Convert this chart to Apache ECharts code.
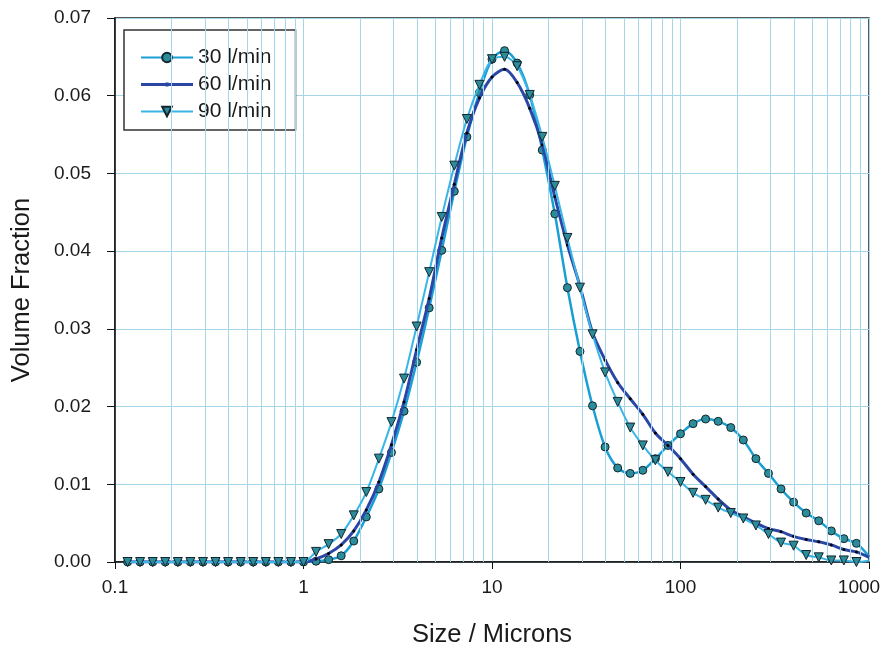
<!DOCTYPE html>
<html>
<head>
<meta charset="utf-8">
<script src="https://cdn.jsdelivr.net/npm/echarts@6/dist/echarts.min.js"></script>
<style>
  html, body { margin: 0; padding: 0; background: #fff; }
  #chart { width: 892px; height: 653px; }
</style>
</head>
<body>
<div id="chart"></div>
<script>
// Particle size bins (microns), 15 per decade
var sizes = [0.1166, 0.1359, 0.1585, 0.1848, 0.2154, 0.2512, 0.2929, 0.3415, 0.3981, 0.4642,
  0.5412, 0.631, 0.7356, 0.8577, 1, 1.166, 1.359, 1.585, 1.848, 2.154,
  2.512, 2.929, 3.415, 3.981, 4.642, 5.412, 6.31, 7.356, 8.577, 10,
  11.66, 13.59, 15.85, 18.48, 21.54, 25.12, 29.29, 34.15, 39.81, 46.42,
  54.12, 63.1, 73.56, 85.77, 100, 116.6, 135.9, 158.5, 184.8, 215.4,
  251.2, 292.9, 341.5, 398.1, 464.2, 541.2, 631, 735.6, 857.7, 1000];

var flow30 = [0, 0, 0, 0, 0, 0, 0, 0, 0, 0, 0, 0, 0, 0, 0,
  0.0001, 0.0003, 0.0008, 0.0027, 0.0058, 0.0094, 0.0141, 0.0194, 0.0257, 0.0327,
  0.0401, 0.0477, 0.0547, 0.0604, 0.0647, 0.0658, 0.0642, 0.0601, 0.0530, 0.0448,
  0.0353, 0.0271, 0.0201, 0.0148, 0.0121, 0.0114, 0.0118, 0.0133, 0.0150, 0.0165,
  0.0178, 0.0184, 0.0181, 0.0173, 0.0157, 0.0133, 0.0114, 0.0094, 0.0077, 0.0063,
  0.0053, 0.0040, 0.0030, 0.0024, 0.0007];

var flow60 = [0, 0, 0, 0, 0, 0, 0, 0, 0, 0, 0, 0, 0, 0, 0,
  0.0004, 0.0011, 0.0022, 0.0040, 0.0067, 0.0103, 0.0151, 0.0206, 0.0273, 0.0339,
  0.0417, 0.0486, 0.0552, 0.0597, 0.0624, 0.0634, 0.0617, 0.0584, 0.0537, 0.0470,
  0.0408, 0.0355, 0.0295, 0.0260, 0.0231, 0.0210, 0.0190, 0.0166, 0.0150, 0.0133,
  0.0113, 0.0097, 0.0081, 0.0067, 0.0058, 0.0050, 0.0043, 0.0039, 0.0033, 0.0029,
  0.0026, 0.0022, 0.0016, 0.0013, 0.0006];

var flow90 = [0, 0, 0, 0, 0, 0, 0, 0, 0, 0, 0, 0, 0, 0, 0,
  0.0013, 0.0023, 0.0036, 0.0060, 0.0090, 0.0133, 0.0180, 0.0236, 0.0303, 0.0373,
  0.0444, 0.0510, 0.0570, 0.0614, 0.0647, 0.0650, 0.0638, 0.0601, 0.0547, 0.0484,
  0.0417, 0.0353, 0.0293, 0.0244, 0.0206, 0.0173, 0.0150, 0.0131, 0.0116, 0.0103,
  0.0089, 0.0080, 0.0070, 0.0063, 0.0056, 0.0047, 0.0036, 0.0025, 0.0021, 0.0009,
  0.0006, 0.0002, 0.0002, 0.0000, 0.0002];

var seriesNames = ['30 l/min', '60 l/min', '90 l/min'];
var xTickLabels = ['0.1', '1', '10', '100', '1000'];
var yTickLabels = ['0.00', '0.01', '0.02', '0.03', '0.04', '0.05', '0.06', '0.07'];
// minor log gridlines
var minorGrid = [0.2, 0.3, 0.4, 0.5, 0.6, 0.7, 0.8, 0.9,
  2, 3, 4, 5, 6, 7, 8, 9,
  20, 30, 40, 50, 60, 70, 80, 90,
  200, 300, 400, 500, 600, 700, 800, 900];

function pairs(vals) {
  return sizes.map(function (s, i) {
    var item = { value: [s, vals[i]] };
    if (i === sizes.length - 1) item.symbol = 'none';
    return item;
  });
}

var gridColor = '#a6d5e8';
var font = 'Liberation Sans, Arial, sans-serif';

var chart = echarts.init(document.getElementById('chart'), null, { renderer: 'canvas' });
chart.setOption({
  backgroundColor: '#ffffff',
  animation: false,
  grid: { left: 115, right: 23, top: 18, bottom: 91, show: true, borderColor: '#222', borderWidth: 1.5, backgroundColor: 'transparent', containLabel: false, outerBoundsMode: 'none' },
  legend: {
    data: [
      { name: seriesNames[0] },
      { name: seriesNames[1], icon: 'path://M0,5.5 L52,5.5 L52,8.5 L0,8.5 Z M24.5,5 L27.5,5 L27.5,9 L24.5,9 Z', itemStyle: { color: '#2a47a6', borderWidth: 0 } },
      { name: seriesNames[2] }
    ],
    orient: 'vertical',
    left: 124, top: 30,
    padding: [17, 24, 8, 16],
    itemWidth: 52, itemHeight: 12, itemGap: 6,
    borderColor: '#333', borderWidth: 1.5, backgroundColor: '#fff',
    textStyle: { fontFamily: font, fontSize: 21, color: '#1a1a1a', lineHeight: 20 }
  },
  xAxis: {
    type: 'log', logBase: 10, min: 0.1, max: 1000,
    name: 'Size / Microns', nameLocation: 'middle', nameGap: 60,
    nameTextStyle: { fontFamily: font, fontSize: 25.5, color: '#1a1a1a' },
    axisLine: { lineStyle: { color: '#111', width: 1.5 } },
    axisTick: { show: true, inside: false, length: 7, lineStyle: { color: '#111' } },
    axisLabel: {
      fontFamily: font, fontSize: 19, color: '#1a1a1a', margin: 16,
      formatter: function (v) {
        var idx = Math.round(Math.log10(v)) + 1;
        var t = xTickLabels[idx] !== undefined ? xTickLabels[idx] : '';
        return idx === xTickLabels.length - 1 ? '{last|' + t + '}' : t;
      },
      rich: { last: { fontFamily: font, fontSize: 19, color: '#1a1a1a', padding: [0, 20, 0, 0] } }
    },
    splitLine: { show: true, lineStyle: { color: gridColor, width: 1 } }
  },
  yAxis: {
    type: 'value', min: 0, max: 0.07, interval: 0.01,
    name: 'Volume Fraction', nameLocation: 'middle', nameGap: 80,
    nameTextStyle: { fontFamily: font, fontSize: 25.5, color: '#1a1a1a' },
    axisLine: { show: true, lineStyle: { color: '#111', width: 1.5 } },
    axisTick: { show: true, inside: false, length: 8, lineStyle: { color: '#111' } },
    axisLabel: {
      fontFamily: font, fontSize: 19, color: '#1a1a1a', margin: 24,
      formatter: function (v) { return yTickLabels[Math.round(v * 100)]; }
    },
    splitLine: { show: true, lineStyle: { color: gridColor, width: 1 } }
  },
  series: [
    {
      name: 'minorGrid', type: 'line', data: [], z: 1, silent: true,
      markLine: {
        silent: true, symbol: 'none', label: { show: false }, animation: false,
        lineStyle: { color: gridColor, type: 'solid', width: 1 },
        data: minorGrid.map(function (v) { return { xAxis: v }; })
      }
    },
    {
      name: seriesNames[0], type: 'line', smooth: 0.3, z: 3,
      data: pairs(flow30),
      symbol: 'circle', symbolSize: 8,
      lineStyle: { color: '#1a9fd4', width: 2.5 },
      itemStyle: { color: '#2b8c9b', borderColor: '#14262c', borderWidth: 1 }
    },
    {
      name: seriesNames[1], type: 'line', smooth: 0.3, z: 4,
      data: pairs(flow60),
      symbol: 'circle', symbolSize: 3,
      lineStyle: { color: '#2a47a6', width: 3 },
      itemStyle: { color: '#000', borderWidth: 0 }
    },
    {
      name: seriesNames[2], type: 'line', smooth: 0.3, z: 5,
      data: pairs(flow90),
      symbol: 'triangle', symbolRotate: 180, symbolSize: 9,
      lineStyle: { color: '#3ab6e6', width: 2 },
      itemStyle: { color: '#2b8c9b', borderColor: '#14262c', borderWidth: 1 }
    }
  ]
});
</script>
</body>
</html>
